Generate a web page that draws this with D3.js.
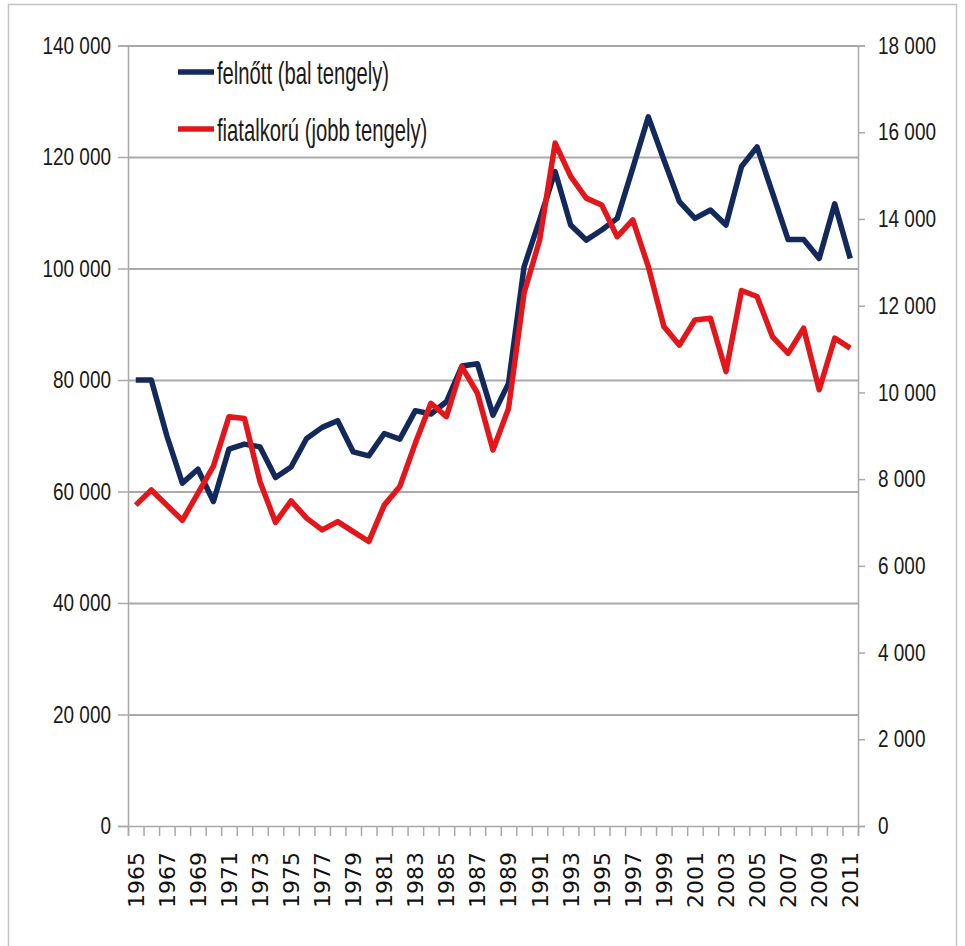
<!DOCTYPE html>
<html>
<head>
<meta charset="utf-8">
<script src="https://cdn.jsdelivr.net/npm/d3@7/dist/d3.min.js"></script>
<style>
  body { margin: 0; background: #fff; }
  svg { display: block; }
</style>
</head>
<body>
<div id="chart"></div>
<script>
const years = d3.range(1965, 2012);

// felnőtt – bal tengely
const adult = [
  80000, 80000, 70000, 61500, 64000, 58200, 67600, 68500, 68000, 62500,
  64400, 69500, 71500, 72700, 67100, 66400, 70400, 69400, 74500, 73900,
  76100, 82500, 82900, 73700, 79400, 100300, 108700, 117400, 107800, 105100,
  106900, 109000, 118000, 127200, 119500, 112000, 109000, 110500, 107800, 118300,
  121800, 113500, 105200, 105200, 101800, 111600, 101800
];

// fiatalkorú – jobb tengely
const juvenile = [
  7400, 7750, 7400, 7050, 7670, 8300, 9440, 9400, 7940, 7000,
  7500, 7100, 6830, 7020, 6790, 6560, 7400, 7830, 8830, 9750,
  9440, 10590, 9980, 8670, 9630, 12290, 13510, 15750, 14980, 14480,
  14320, 13590, 13980, 12900, 11520, 11090, 11670, 11710, 10480, 12350,
  12210, 11280, 10900, 11480, 10060, 11250, 11020
];

const leftTicks = [0, 20000, 40000, 60000, 80000, 100000, 120000, 140000];
const rightTicks = [0, 2000, 4000, 6000, 8000, 10000, 12000, 14000, 16000, 18000];
const seriesNames = ['felnőtt (bal tengely)', 'fiatalkorú (jobb tengely)'];
const seriesColors = ['#13295c', '#e3161b'];

const W = 965, H = 946;
const margin = { top: 45.5, right: 107, bottom: 120, left: 128 };
const width = W - margin.left - margin.right;
const height = H - margin.top - margin.bottom;

const fmt = v => d3.format(',')(v).replace(/,/g, ' ');
const narrow = '"Liberation Sans Narrow", "Arial Narrow", "Liberation Sans", sans-serif';

// squeeze text horizontally (the original uses a condensed face)
function squeeze(sel, k) {
  sel.each(function () {
    const len = this.getComputedTextLength();
    d3.select(this).attr('textLength', len * k).attr('lengthAdjust', 'spacingAndGlyphs');
  });
}

const root = d3.select('#chart').append('svg')
  .attr('width', W)
  .attr('height', H);

// outer frame
root.append('rect')
  .attr('x', 8.5).attr('y', 4.5)
  .attr('width', 948).attr('height', 960)
  .attr('fill', 'none')
  .attr('stroke', '#c4c4c4')
  .attr('stroke-width', 1.5);

const svg = root.append('g')
  .attr('transform', `translate(${margin.left},${margin.top})`);

const x = d3.scaleBand().domain(years).range([0, width]).padding(0);
const xEdge = d3.scaleLinear().domain([0, years.length]).range([0, width]);
const yL = d3.scaleLinear().domain([0, 140000]).range([height, 0]);
const yR = d3.scaleLinear().domain([0, 18000]).range([height, 0]);

// gridlines
svg.append('g')
  .call(d3.axisLeft(yL).tickValues(leftTicks.slice(1)).tickSize(-width).tickFormat(''))
  .call(g => g.select('.domain').remove())
  .call(g => g.selectAll('line').attr('stroke', '#a9a9a9').attr('stroke-width', 2));

// left axis
svg.append('g')
  .call(d3.axisLeft(yL).tickValues(leftTicks).tickSize(10).tickPadding(7).tickFormat(fmt))
  .call(g => g.select('.domain').attr('stroke', '#a9a9a9').attr('stroke-width', 1.5))
  .call(g => g.selectAll('line').attr('stroke', '#a9a9a9').attr('stroke-width', 1.5))
  .call(g => g.selectAll('text')
    .style('font-family', narrow).style('font-size', '24px').attr('fill', '#1a1a1a')
    .call(squeeze, 0.79));

// right axis
svg.append('g')
  .attr('transform', `translate(${width},0)`)
  .call(d3.axisRight(yR).tickValues(rightTicks).tickSize(7).tickPadding(13).tickFormat(fmt))
  .call(g => g.select('.domain').attr('stroke', '#a9a9a9').attr('stroke-width', 1.5))
  .call(g => g.selectAll('line').attr('stroke', '#a9a9a9').attr('stroke-width', 1.5))
  .call(g => g.selectAll('text')
    .style('font-family', narrow).style('font-size', '24px').attr('fill', '#1a1a1a')
    .call(squeeze, 0.79));

// x axis tick marks at category edges
svg.append('g')
  .attr('transform', `translate(0,${height})`)
  .call(d3.axisBottom(xEdge).tickValues(d3.range(years.length + 1)).tickSize(10).tickFormat(''))
  .call(g => g.select('.domain').attr('stroke', '#a9a9a9').attr('stroke-width', 1.5))
  .call(g => g.selectAll('line').attr('stroke', '#a9a9a9').attr('stroke-width', 1.5));

// x axis labels
svg.append('g')
  .attr('transform', `translate(0,${height})`)
  .call(d3.axisBottom(x).tickValues(years.filter((d, i) => i % 2 === 0)).tickSize(0).tickPadding(0))
  .call(g => g.select('.domain').remove())
  .call(g => g.selectAll('text')
    .attr('transform', 'rotate(-90)')
    .attr('x', -26).attr('y', 0).attr('dy', '0.36em')
    .style('text-anchor', 'end')
    .style('font-family', '"DejaVu Sans", Verdana, sans-serif')
    .style('font-size', '22px')
    .attr('fill', '#111'));

// lines
const lineL = d3.line().x((d, i) => x(years[i]) + x.bandwidth() / 2).y(d => yL(d));
const lineR = d3.line().x((d, i) => x(years[i]) + x.bandwidth() / 2).y(d => yR(d));

svg.append('path').datum(adult)
  .attr('d', lineL)
  .attr('fill', 'none')
  .attr('stroke', seriesColors[0])
  .attr('stroke-width', 5.5)
  .attr('stroke-linejoin', 'round');

svg.append('path').datum(juvenile)
  .attr('d', lineR)
  .attr('fill', 'none')
  .attr('stroke', seriesColors[1])
  .attr('stroke-width', 5.5)
  .attr('stroke-linejoin', 'round');

// legend
const legend = root.append('g');
const legendY = [72, 129];
seriesNames.forEach((name, i) => {
  legend.append('line')
    .attr('x1', 178).attr('x2', 214)
    .attr('y1', legendY[i]).attr('y2', legendY[i])
    .attr('stroke', seriesColors[i])
    .attr('stroke-width', 5.5);
  legend.append('text')
    .attr('transform', `translate(217,${legendY[i] + 12}) scale(1,1.4)`)
    .style('font-family', narrow)
    .style('font-size', '22px')
    .attr('fill', '#1a1a1a')
    .text(name)
    .call(squeeze, 0.92);
});
</script>
</body>
</html>
